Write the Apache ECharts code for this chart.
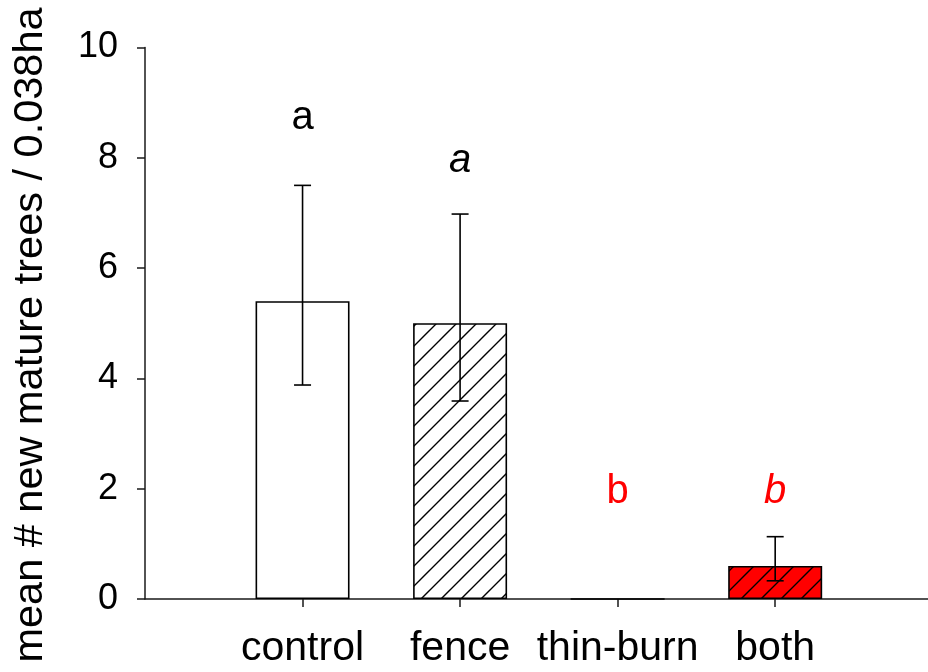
<!DOCTYPE html>
<html>
<head>
<meta charset="utf-8">
<script src="https://cdn.jsdelivr.net/npm/echarts@6/dist/echarts.min.js"></script>
<style>html,body{margin:0;padding:0;background:#fff;}#c{width:928px;height:672px;}</style>
</head>
<body>
<div id="c"></div>
<script>
var categories = ['control', 'fence', 'thin-burn', 'both'];
var positions = [1, 2, 3, 4];
var means = [5.4, 5.0, 0, 0.6];
var errHigh = [7.5, 6.98, null, 1.13];
var errLow = [3.88, 3.59, null, 0.33];
var letters = ['a', 'a', 'b', 'b'];
var letterY = [8.72, 7.94, 1.94, 1.94];
var letterItalic = [false, true, false, true];
var letterColor = ['#000000', '#000000', '#ff0000', '#ff0000'];
var yTicks = [0, 2, 4, 6, 8, 10];
var yTitle = 'mean # new mature trees / 0.038ha';

function hatch(bg) {
  var s = 20;
  var cv = document.createElement('canvas');
  cv.width = s; cv.height = s;
  var ctx = cv.getContext('2d');
  if (bg) { ctx.fillStyle = bg; ctx.fillRect(0, 0, s, s); }
  ctx.strokeStyle = '#000';
  ctx.lineWidth = 1.4;
  ctx.beginPath();
  ctx.moveTo(-2, s + 2); ctx.lineTo(s + 2, -2);
  ctx.moveTo(-2, 2); ctx.lineTo(2, -2);
  ctx.moveTo(s - 2, s + 2); ctx.lineTo(s + 2, s - 2);
  ctx.stroke();
  return cv;
}
var fills = ['#ffffff', {image: hatch('#ffffff'), repeat: 'repeat'}, '#ffffff', {image: hatch('#ff0000'), repeat: 'repeat'}];

var barData = means.map(function (v, i) {
  return {value: [positions[i], v], itemStyle: {color: fills[i]}};
});
var errData = [];
for (var i = 0; i < categories.length; i++) {
  if (errHigh[i] != null) errData.push([positions[i], errLow[i], errHigh[i]]);
}
var letterData = letters.map(function (t, i) {
  return {
    value: [positions[i], letterY[i], t],
    label: {fontStyle: letterItalic[i] ? 'italic' : 'normal', color: letterColor[i]}
  };
});

var chart = echarts.init(document.getElementById('c'), null, {renderer: 'canvas'});
chart.setOption({
  animation: false,
  backgroundColor: '#ffffff',
  textStyle: {fontFamily: 'Liberation Sans'},
  grid: {left: 145, top: 47.5, right: 0, height: 551.5, containLabel: false},
  xAxis: {
    type: 'value', min: 0, max: 4.97, interval: 1,
    splitLine: {show: false},
    axisLine: {show: true, onZero: false, lineStyle: {color: '#1a1a1a', width: 1.5}},
    axisTick: {show: true, inside: false, length: 8, customValues: positions, lineStyle: {color: '#1a1a1a', width: 1.5}},
    axisLabel: {
      show: true, margin: 29, customValues: positions,
      fontSize: 41, color: '#000', fontFamily: 'Liberation Sans',
      formatter: function (v) { var k = positions.indexOf(v); return k >= 0 ? categories[k] : ''; }
    }
  },
  yAxis: {
    type: 'value', min: 0, max: 10, interval: 2,
    splitLine: {show: false},
    axisLine: {show: true, lineStyle: {color: '#1a1a1a', width: 1.5}},
    axisTick: {show: true, inside: false, length: 8, customValues: yTicks, lineStyle: {color: '#1a1a1a', width: 1.5}},
    axisLabel: {margin: 27, fontSize: 36, color: '#000', fontFamily: 'Liberation Sans', customValues: yTicks}
  },
  graphic: [{
    type: 'text', x: 31, y: 335, rotation: Math.PI / 2,
    style: {text: yTitle, fontSize: 41.5, fontFamily: 'Liberation Sans', fill: '#000', align: 'center', verticalAlign: 'middle'}
  }],
  series: [
    {
      type: 'bar', data: barData, barWidth: 94,
      itemStyle: {borderColor: '#000', borderWidth: 1.6}
    },
    {
      type: 'custom', data: errData, z: 5,
      renderItem: function (params, api) {
        var x = api.value(0);
        var lo = api.coord([x, api.value(1)]);
        var hi = api.coord([x, api.value(2)]);
        var w = 8.5;
        var st = {stroke: '#000', lineWidth: 1.6};
        return {type: 'group', children: [
          {type: 'line', shape: {x1: lo[0], y1: lo[1], x2: hi[0], y2: hi[1]}, style: st},
          {type: 'line', shape: {x1: hi[0] - w, y1: hi[1], x2: hi[0] + w, y2: hi[1]}, style: st},
          {type: 'line', shape: {x1: lo[0] - w, y1: lo[1], x2: lo[0] + w, y2: lo[1]}, style: st}
        ]};
      }
    },
    {
      type: 'scatter', data: letterData, symbolSize: 0, z: 6,
      itemStyle: {opacity: 1},
      label: {
        show: true, position: 'inside', fontSize: 40, fontFamily: 'Liberation Sans', opacity: 1,
        textBorderWidth: 0,
        formatter: function (p) { return p.value[2]; }
      }
    }
  ]
});
</script>
</body>
</html>
